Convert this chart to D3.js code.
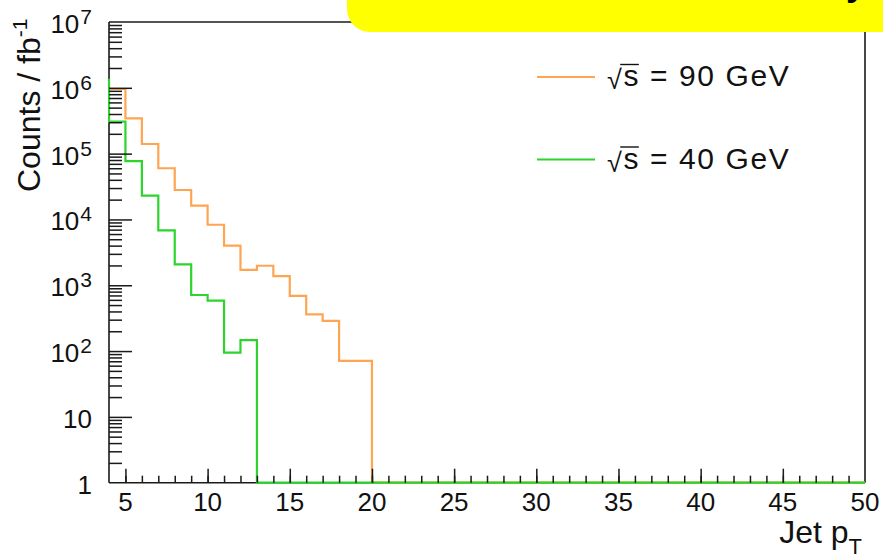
<!DOCTYPE html>
<html>
<head>
<meta charset="utf-8">
<script src="https://cdn.jsdelivr.net/npm/d3@7"></script>
<style>
  body { margin: 0; background: #fff; }
  svg { display: block; }
  text { font-family: "Liberation Sans", Arial, Helvetica, sans-serif; fill: #111; }
</style>
</head>
<body>
<svg id="chart" width="883" height="557"></svg>
<script>
// Jet pT bin edges (GeV), 1 GeV wide bins
const binEdges = [3, 4, 5, 6, 7, 8, 9, 10, 11, 12, 13, 14, 15, 16, 17, 18, 19, 20,
  21, 22, 23, 24, 25, 26, 27, 28, 29, 30, 31, 32, 33, 34, 35, 36, 37, 38, 39, 40,
  41, 42, 43, 44, 45, 46, 47, 48, 49, 50];

// Counts / fb^-1 per bin, sqrt(s) = 90 GeV
const counts90 = [1.1e6, 9.6e5, 3.44e5, 1.40e5, 6.0e4, 2.8e4, 1.62e4, 8.3e3, 4.0e3,
  1.71e3, 1.98e3, 1.38e3, 690, 362, 287, 71, 71,
  0, 0, 0, 0, 0, 0, 0, 0, 0, 0, 0, 0, 0, 0, 0, 0, 0, 0, 0, 0, 0, 0, 0, 0, 0, 0, 0, 0, 0, 0];

// Counts / fb^-1 per bin, sqrt(s) = 40 GeV
const counts40 = [1.32e6, 3.06e5, 7.7e4, 2.3e4, 6.8e3, 2.08e3, 711, 583, 94.5, 147,
  0, 0, 0, 0, 0, 0, 0, 0, 0, 0, 0, 0, 0, 0, 0, 0, 0, 0, 0, 0, 0, 0, 0, 0, 0, 0, 0, 0,
  0, 0, 0, 0, 0, 0, 0, 0, 0];

const seriesNames = ["90 GeV", "40 GeV"];
const seriesColors = ["#ffa552", "#2dd42d"];

const xTickMajor = [5, 10, 15, 20, 25, 30, 35, 40, 45, 50];
const xTickMinor = [5, 6, 7, 8, 9, 10, 11, 12, 13, 14, 15, 16, 17, 18, 19, 20, 21, 22,
  23, 24, 25, 26, 27, 28, 29, 30, 31, 32, 33, 34, 35, 36, 37, 38, 39, 40, 41, 42, 43,
  44, 45, 46, 47, 48, 49];
const yDecades = [1, 10, 100, 1e3, 1e4, 1e5, 1e6, 1e7];
const yExponents = [0, 1, 2, 3, 4, 5, 6, 7];

const svg = d3.select("#chart");
const frame = { left: 109, right: 865, top: 22, bottom: 482.7 };

const x = d3.scaleLinear().domain([4, 50]).range([frame.left, frame.right]);
const y = d3.scaleLog().domain([1, 1e7]).range([frame.bottom, frame.top]);

const axisColor = "#1a1a1a";

// minor log ticks: 2..9 within each decade
const yMinor = [];
yDecades.slice(0, -1).forEach(d => { for (let m = 2; m <= 9; m++) yMinor.push(d * m); });

// frame lines (under the histograms)
const frameG = svg.append("g").attr("stroke", axisColor).attr("stroke-width", 1.6).attr("fill", "none");
frameG.append("line").attr("x1", frame.left).attr("x2", frame.left).attr("y1", frame.top).attr("y2", frame.bottom);
frameG.append("line").attr("x1", frame.left).attr("x2", frame.right).attr("y1", frame.top).attr("y2", frame.top);
frameG.append("line").attr("x1", frame.right).attr("x2", frame.right).attr("y1", frame.top).attr("y2", frame.bottom);
frameG.append("line").attr("x1", frame.left).attr("x2", frame.right).attr("y1", frame.bottom).attr("y2", frame.bottom);

// clip for histogram lines
svg.append("defs").append("clipPath").attr("id", "plotClip")
  .append("rect")
  .attr("x", frame.left - 1.2).attr("y", frame.top)
  .attr("width", frame.right - frame.left + 1.2)
  .attr("height", frame.bottom - frame.top + 2);

// histograms
const hist = svg.append("g").attr("clip-path", "url(#plotClip)");
const stepLine = d3.line()
  .x(d => x(d[0]))
  .y(d => y(Math.max(d[1], 1)))
  .curve(d3.curveStepAfter);

[counts90, counts40].forEach((vals, si) => {
  const pts = binEdges.map((e, i) => [e, vals[Math.min(i, vals.length - 1)]]);
  hist.append("path")
    .attr("d", stepLine(pts))
    .attr("fill", "none")
    .attr("stroke", seriesColors[si])
    .attr("stroke-width", 2.2)
    .attr("stroke-linejoin", "miter");
});

// y axis: major and minor ticks pointing inward
const yMajAxis = svg.append("g").attr("transform", `translate(${frame.left},0)`)
  .call(d3.axisLeft(y).tickValues(yDecades.slice(1, -1)).tickSize(-23).tickFormat(""));
const yMinAxis = svg.append("g").attr("transform", `translate(${frame.left},0)`)
  .call(d3.axisLeft(y).tickValues(yMinor).tickSize(-13).tickFormat(""));
[yMajAxis, yMinAxis].forEach(g => {
  g.select(".domain").remove();
  g.selectAll("line").attr("stroke", axisColor).attr("stroke-width", 1.5);
});

// x axis ticks
const xMajAxis = svg.append("g").attr("transform", `translate(0,${frame.bottom})`)
  .call(d3.axisBottom(x).tickValues(xTickMajor.slice(0, -1)).tickSize(-14).tickFormat(""));
const xMinAxis = svg.append("g").attr("transform", `translate(0,${frame.bottom})`)
  .call(d3.axisBottom(x).tickValues(xTickMinor).tickSize(-7).tickFormat(""));
[xMajAxis, xMinAxis].forEach(g => {
  g.select(".domain").remove();
  g.selectAll("line").attr("stroke", axisColor).attr("stroke-width", 1.5);
});

// x tick labels
svg.append("g").selectAll("text").data(xTickMajor).join("text")
  .attr("x", d => x(d)).attr("y", 511)
  .attr("text-anchor", "middle")
  .attr("font-size", 26)
  .text(d => d);

// y tick labels (powers of ten)
const yLab = svg.append("g").selectAll("text").data(yDecades).join("text")
  .attr("x", 92).attr("y", d => y(d) + 11)
  .attr("text-anchor", "end")
  .attr("font-size", 26);
yLab.each(function (d, i) {
  const t = d3.select(this);
  const k = yExponents[i];
  if (k === 0) t.text("1");
  else if (k === 1) t.text("10");
  else {
    t.append("tspan").text("10");
    t.append("tspan").attr("font-size", 21).attr("dy", -9).attr("dx", 1).text(k);
  }
});

// axis titles
const yTitle = svg.append("text")
  .attr("transform", "translate(40,192) rotate(-90)")
  .attr("font-size", 32);
yTitle.append("tspan").text("Counts / fb");
yTitle.append("tspan").attr("font-size", 21).attr("dy", -13).text("-1");

const xTitle = svg.append("text")
  .attr("x", 862).attr("y", 543)
  .attr("text-anchor", "end")
  .attr("font-size", 32);
xTitle.append("tspan").text("Jet p");
xTitle.append("tspan").attr("font-size", 22).attr("dy", 11).text("T");

// legend
const legendY = [77, 159.5];
seriesNames.forEach((name, i) => {
  const g = svg.append("g");
  g.append("line")
    .attr("x1", 537).attr("x2", 595)
    .attr("y1", legendY[i]).attr("y2", legendY[i])
    .attr("stroke", seriesColors[i]).attr("stroke-width", 2);
  const base = legendY[i] + 9;
  const t = g.append("text")
    .attr("x", 607).attr("y", base)
    .attr("font-size", 30)
    .attr("letter-spacing", 1.6);
  t.append("tspan").attr("font-size", 27).attr("dy", 3).text("√");
  t.append("tspan").attr("dy", -3).text("s");
  t.append("tspan").text(" = " + name);
  // radical bar over the "s"
  const node = t.node();
  const r = node.getExtentOfChar(0);
  const s = node.getExtentOfChar(1);
  g.append("line")
    .attr("x1", r.x + r.width - 3.2).attr("x2", s.x + s.width - 1.2)
    .attr("y1", base - 21.5).attr("y2", base - 21.5)
    .attr("stroke", "#111").attr("stroke-width", 1.4);
});

// highlighted header box in the top-right corner
svg.append("rect")
  .attr("x", 347).attr("y", -70)
  .attr("width", 600).attr("height", 102)
  .attr("rx", 23).attr("ry", 23)
  .attr("fill", "#ffff00");
svg.append("text")
  .attr("x", 866).attr("y", -5)
  .attr("text-anchor", "end")
  .attr("font-size", 36)
  .attr("font-weight", "bold")
  .style("fill", "#000")
  .text("Preliminary");
</script>
</body>
</html>
